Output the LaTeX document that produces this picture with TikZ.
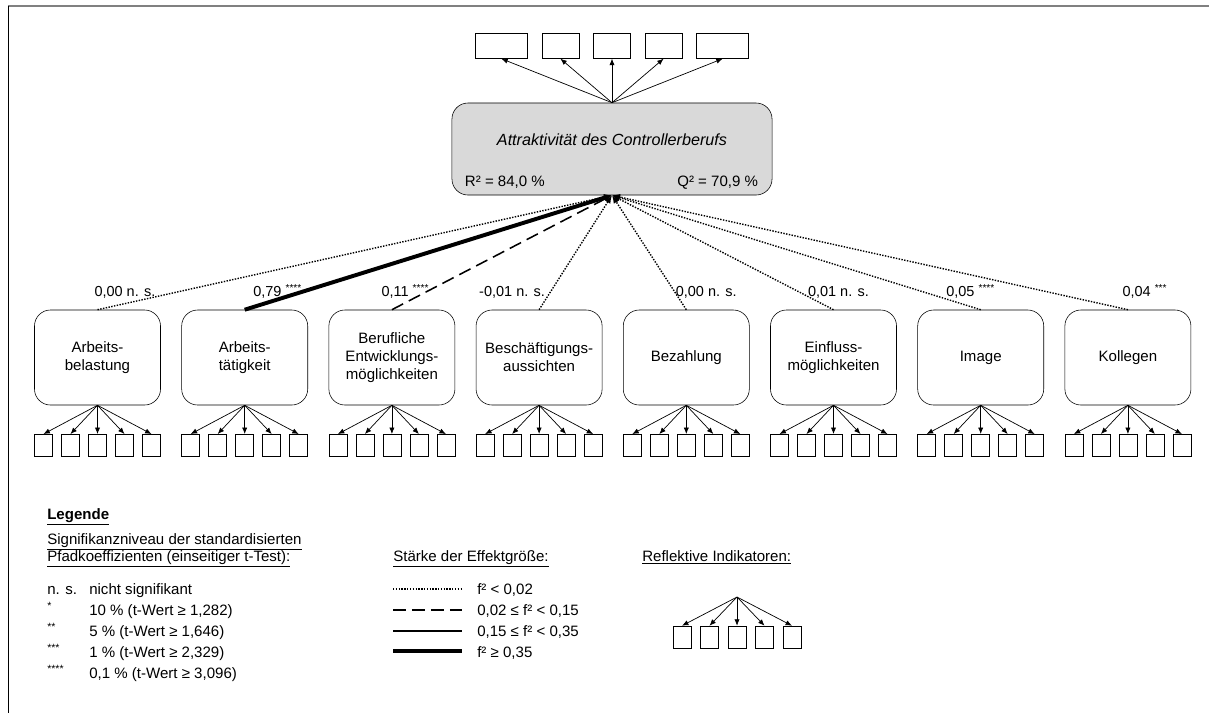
\documentclass[tikz,border=0pt]{standalone}
\usepackage{fontspec}
\setmainfont{Liberation Sans}
\usepackage{tikz}
\usetikzlibrary{arrows.meta, positioning, calc}
\definecolor{BoxGrey}{RGB}{217,217,217}
\definecolor{FrameGrey}{RGB}{128,128,128}

\begin{document}
\begin{tikzpicture}[x=0.025cm, y=-0.025cm,
    font=\fontsize{10.7}{12.8}\selectfont,
    latent/.style={draw, rounded corners=0.4cm, minimum width=3.15cm, minimum height=2.375cm,
                   align=center, inner sep=2pt},
    target/.style={draw, rounded corners=0.4cm, fill=BoxGrey, minimum width=8cm, minimum height=2.3cm},
    item/.style={draw, minimum width=0.45cm, minimum height=0.55cm, inner sep=0pt},
    topitem/.style={draw, minimum width=0.925cm, minimum height=0.625cm, inner sep=0pt},
    load/.style={-{Latex[length=1.6mm, width=1.3mm]}, line width=0.5pt},
    path/.style={-{Latex[length=2mm, width=1.6mm]}},
    weak/.style={line width=1pt, dash pattern=on 1pt off 1pt},
    small/.style={line width=1.1pt, dash pattern=on 9pt off 4.5pt},
    medium/.style={line width=1.4pt},
    strong/.style={line width=2.8pt},
    coef/.style={anchor=base, inner sep=0pt, font=\fontsize{10.3}{12}\selectfont},
    legtext/.style={anchor=base west, inner sep=0pt},
    node distance=0.515cm,
]
\useasboundingbox (0,0) rectangle (1209,713);
\draw[FrameGrey, line width=1.5pt] (8,6) -- (1209,6);
\draw[line width=0.6pt] (8,6) -- (8,713);

% endogenous construct
\node[target] (ctl) at (612,149) {};
\node[font=\fontsize{11.5}{13}\selectfont\itshape] (ctltitle) at ($(ctl.center)+(0,-9)$)
  {Attraktivität des Controllerberufs};
\node[legtext] (rsq) at ($(ctl.south west)+(13,-9)$) {R² = 84,0 \%};
\node[anchor=base east, inner sep=0pt] (qsq) at ($(ctl.south east)+(-14,-9)$) {Q² = 70,9 \%};

\node[topitem, above=1.1cm of ctl] (t3) {};
\node[topitem, left=0.35cm of t3] (t2) {};
\node[topitem, minimum width=1.3cm, left=0.35cm of t2] (t1) {};
\node[topitem, right=0.35cm of t3] (t4) {};
\node[topitem, minimum width=1.3cm, right=0.35cm of t4] (t5) {};
\draw[load] (ctl.north) -- (t1.south);
\draw[load] (ctl.north) -- (t2.south);
\draw[load] (ctl.north) -- (t3.south);
\draw[load] (ctl.north) -- (t4.south);
\draw[load] (ctl.north) -- (t5.south);

% exogenous constructs
\node[latent] (l1) at (97.5,357.5) {Arbeits-\\belastung};
\node[latent, right=of l1] (l2) {Arbeits-\\tätigkeit};
\node[latent, right=of l2] (l3) {Berufliche\\Entwicklungs-\\möglichkeiten};
\node[latent, right=of l3] (l4) {Beschäftigungs-\\aussichten};
\node[latent, right=of l4] (l5) {Bezahlung};
\node[latent, right=of l5] (l6) {Einfluss-\\möglichkeiten};
\node[latent, right=of l6] (l7) {Image};
\node[latent, right=of l7] (l8) {Kollegen};

\draw[path, weak] (l1.north) -- (ctl.south);
\draw[path, strong] (l2.north) -- (ctl.south);
\draw[path, small] (l3.north) -- (ctl.south);
\draw[path, weak] (l4.north) -- (ctl.south);
\draw[path, weak] (l5.north) -- (ctl.south);
\draw[path, weak] (l6.north) -- (ctl.south);
\draw[path, weak] (l7.north) -- (ctl.south);
\draw[path, weak] (l8.north) -- (ctl.south);

\node[coef] (c1) at ($(l1.north)+(27.5,-13)$) {0,00 n. s.};
\node[coef] (c2) at ($(l2.north)+(33,-13)$) {0,79 \textsuperscript{****}};
\node[coef] (c3) at ($(l3.north)+(13.5,-13)$) {0,11 \textsuperscript{****}};
\node[coef] (c4) at ($(l4.north)+(-27,-13)$) {-0,01 n. s.};
\node[coef] (c5) at ($(l5.north)+(20,-13)$) {0,00 n. s.};
\node[coef] (c6) at ($(l6.north)+(5,-13)$) {0,01 n. s.};
\node[coef] (c7) at ($(l7.north)+(-10,-13)$) {0,05 \textsuperscript{****}};
\node[coef] (c8) at ($(l8.north)+(17,-13)$) {0,04 \textsuperscript{***}};

\foreach \i in {1,...,8}
  \foreach \k/\dx in {1/-54, 2/-27, 3/0, 4/27, 5/54} {
    \node[item] (i\i\k) at ($(l\i.south)+(\dx,40)$) {};
    \draw[load] (l\i.south) -- (i\i\k.north);
  }

% legend
\node[legtext, font=\fontsize{10.7}{12.8}\selectfont\bfseries] (leg) at (47,519) {\underline{Legende}};
\node[legtext] (sig1) at (47,544) {\underline{Signifikanzniveau der standardisierten}};
\node[legtext] (sig2) at (47,561) {\underline{Pfadkoeffizienten (einseitiger t-Test):}};
\node[legtext] (s0) at (47,594) {n. s.};
\node[legtext] (s1) at (47,615) {\textsuperscript{*}};
\node[legtext] (s2) at (47,636) {\textsuperscript{**}};
\node[legtext] (s3) at (47,657) {\textsuperscript{***}};
\node[legtext] (s4) at (47,678) {\textsuperscript{****}};
\node[legtext] (n0) at (89,594) {nicht signifikant};
\node[legtext] (n1) at (89,615) {10 \% (t-Wert ≥ 1,282)};
\node[legtext] (n2) at (89,636) {5 \% (t-Wert ≥ 1,646)};
\node[legtext] (n3) at (89,657) {1 \% (t-Wert ≥ 2,329)};
\node[legtext] (n4) at (89,678) {0,1 \% (t-Wert ≥ 3,096)};

\node[legtext] (eff) at (393,561) {\underline{Stärke der Effektgröße:}};
\coordinate (e1a) at (393,589); \coordinate (e1b) at (462,589);
\coordinate (e2a) at (393,610); \coordinate (e2b) at (462,610);
\coordinate (e3a) at (393,631); \coordinate (e3b) at (462,631);
\coordinate (e4a) at (393,651); \coordinate (e4b) at (462,651);
\draw[weak] (e1a) -- (e1b);
\draw[small] (e2a) -- (e2b);
\draw[medium] (e3a) -- (e3b);
\draw[strong] (e4a) -- (e4b);
\node[legtext] (f1) at (477,594) {f² < 0,02};
\node[legtext] (f2) at (477,615) {0,02 ≤ f² < 0,15};
\node[legtext] (f3) at (477,636) {0,15 ≤ f² < 0,35};
\node[legtext] (f4) at (477,657) {f² ≥ 0,35};

\node[legtext] (refl) at (642,561) {\underline{Reflektive Indikatoren:}};
\coordinate (rx) at (737,597);
\foreach \k/\dx in {1/-55, 2/-27.5, 3/0, 4/27.5, 5/55} {
  \node[item] (r\k) at ($(rx)+(\dx,40)$) {};
  \draw[load] (rx) -- (r\k.north);
}
\end{tikzpicture}
\end{document}
